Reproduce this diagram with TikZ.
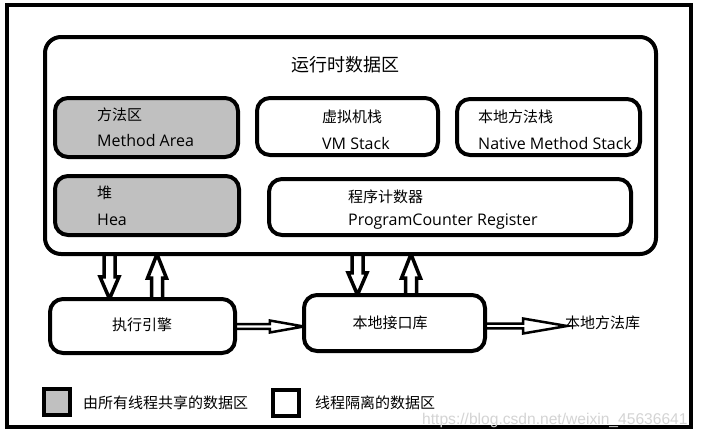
\documentclass[tikz,border=0pt]{standalone}
\usepackage{fontspec}
\setmainfont{Noto Sans CJK SC}
\newfontfamily\latinfont{Open Sans}
\newfontfamily\wmfont{Liberation Sans}
\usetikzlibrary{calc}
\definecolor{lgray}{HTML}{C0C0C0}
\definecolor{wmgray}{HTML}{D4D4D4}
% hollow block arrow: [opts]{start}{end}{shaft half width}{head half width}{head length}{line width}
\newcommand\blockarrow[7][]{%
  \draw[line width=#7, fill=white, line join=miter, miter limit=10, #1]
    let \p1=(#2), \p2=(#3), \n1={veclen(\x2-\x1,\y2-\y1)}, \n2={atan2(\y2-\y1,\x2-\x1)} in
    [shift={(\p1)}, rotate=\n2]
    (0pt,#4pt) -- ({\n1-#6pt},#4pt) -- ({\n1-#6pt},#5pt) -- ({\n1+0pt},0pt)
    -- ({\n1-#6pt},-#5pt) -- ({\n1-#6pt},-#4pt) -- (0pt,-#4pt) -- cycle;}
\begin{document}
\begin{tikzpicture}[x=1pt,y=-1pt,
  font=\fontsize{15}{18}\selectfont,
  box/.style={draw, rectangle, line width=4pt, rounded corners=13pt, inner sep=0pt, fill=white},
  shared/.style={box, fill=lgray},
  txt/.style={anchor=west, inner sep=0pt},
  ltxt/.style={txt, font=\latinfont\fontsize{16}{18}\selectfont},
  ctxt/.style={inner sep=0pt},
  legendbox/.style={draw, rectangle, line width=4pt, inner sep=0pt, minimum size=26pt}]
\useasboundingbox (0,0) rectangle (701,439);
\fill[white] (0,0) rectangle (701,439);
% outer frame
\node[draw, rectangle, line width=4pt, inner sep=0pt, minimum width=684pt, minimum height=422pt] (frame) at (349,216) {};
% anchor coordinates for the arrows
\coordinate (x1) at (109.5,0);
\coordinate (x2) at (157,0);
\coordinate (x3) at (357.5,0);
\coordinate (x4) at (411,0);
% box positions needed for arrows
\path (142.5,326) node[minimum width=185pt, minimum height=54pt] (execpos) {};
\path (394.5,323) node[minimum width=181pt, minimum height=56pt] (nlpos) {};
\path (350.5,145.5) node[minimum width=611pt, minimum height=217pt] (rtpos) {};
\node[ctxt, anchor=west] (lib) at (565,323) {本地方法库};
% arrows
\blockarrow{x1 |- rtpos.south}{x1 |- execpos.north}{5.5}{9.5}{22}{3.5pt}
\blockarrow{x2 |- execpos.north}{x2 |- rtpos.south}{5.5}{9.5}{24}{3.5pt}
\blockarrow{x3 |- rtpos.south}{x3 |- nlpos.north}{5.5}{9.5}{22}{3.5pt}
\blockarrow{x4 |- nlpos.north}{x4 |- rtpos.south}{5.5}{9.5}{24}{3.5pt}
\blockarrow{$(execpos.east)+(0,0.5)$}{$(nlpos.west |- execpos.east)+(0,0.5)$}{2.3}{6}{34}{2.5pt}
\blockarrow{$(nlpos.east)+(0,3)$}{$(lib.west)+(2,3)$}{2.3}{7.5}{44}{2.5pt}
% runtime data area
\node[box, rounded corners=16pt, minimum width=611pt, minimum height=217pt] (rt) at (350.5,145.5) {};
\node[ctxt, font=\fontsize{18}{21}\selectfont] (rttitle) at (345,65) {运行时数据区};
\node[shared, minimum width=183pt, minimum height=59pt] (ma) at (146.5,127.5) {};
\node[txt] (ma1) at (97,115) {方法区};
\node[ltxt] (ma2) at (97,140) {Method Area};
\node[box, minimum width=181pt, minimum height=57pt] (vm) at (347.5,126.5) {};
\node[txt] (vm1) at (322,117) {虚拟机栈};
\node[ltxt] (vm2) at (322,143) {VM Stack};
\node[box, minimum width=183pt, minimum height=56pt] (nm) at (548.5,127) {};
\node[txt] (nm1) at (478,117) {本地方法栈};
\node[ltxt] (nm2) at (478,143) {Native Method Stack};
\node[shared, minimum width=184pt, minimum height=59pt] (heap) at (147,205.5) {};
\node[txt] (heap1) at (97,193) {堆};
\node[ltxt] (heap2) at (97,220) {Hea};
\node[box, minimum width=362pt, minimum height=56pt] (pc) at (450,207) {};
\node[txt] (pc1) at (348,197) {程序计数器};
\node[ltxt] (pc2) at (348,222) {ProgramCounter Register};
% bottom boxes
\node[box, minimum width=185pt, minimum height=54pt] (exec) at (142.5,326) {};
\node[ctxt] (exectxt) at (142,325) {执行引擎};
\node[box, minimum width=181pt, minimum height=56pt] (nl) at (394.5,323) {};
\node[ctxt] (nltxt) at (390,323) {本地接口库};
% legend
\node[legendbox, fill=lgray] (lg1) at (57,402) {};
\node[txt] (lg1t) at (83,403) {由所有线程共享的数据区};
\node[legendbox, fill=white] (lg2) at (285.5,403) {};
\node[txt] (lg2t) at (315,403) {线程隔离的数据区};
% watermark
\node[txt, text=wmgray, font=\wmfont\fontsize{15.6}{17}\selectfont] (wm) at (422,420) {https://blog.csdn.net/weixin\_45636641};
\end{tikzpicture}
\end{document}
